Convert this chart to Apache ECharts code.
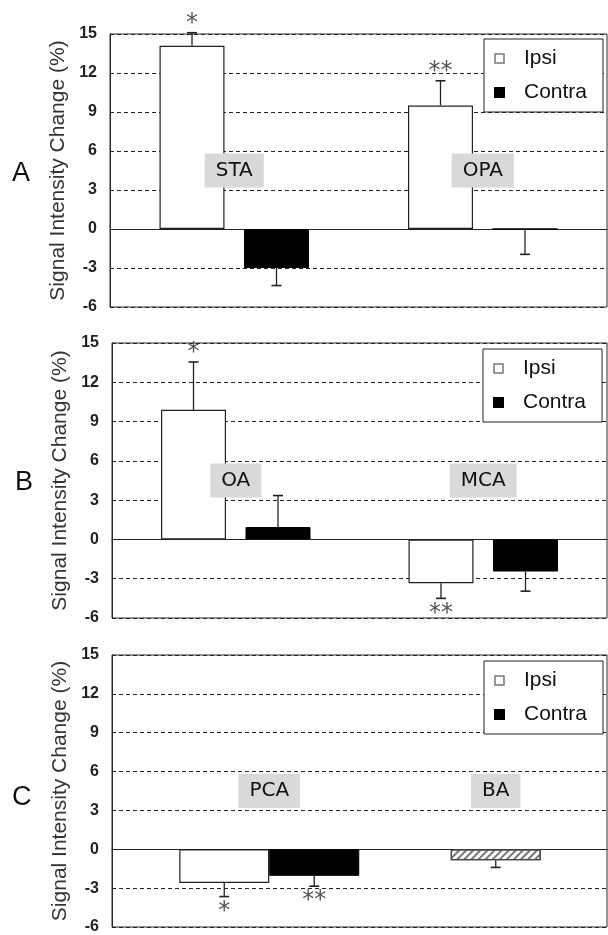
<!DOCTYPE html>
<html>
<head>
<meta charset="utf-8">
<script src="https://cdn.jsdelivr.net/npm/echarts@6/dist/echarts.min.js"></script>
<style>
html,body{margin:0;padding:0;background:#fff;}
#chart{width:608px;height:935px;}
</style>
</head>
<body>
<div id="chart"></div>
<script>
// ---------- data ----------
const yMin = -6, yMax = 15, yStep = 3;
const labelLevel = 4.5;           // vertical level of the vessel name boxes

// Panel A
const catsA = ['STA', 'OPA'];
const ipsiA = [14.1, 9.5];
const ipsiErrA = [1.0, 1.9];        // signed: drawn from bar end to value+err
const contraA = [-3.0, 0];
const contraErrA = [-1.35, -1.95];
const sigIpsiA = ['*', '**'];
const sigContraA = ['', ''];

// Panel B
const catsB = ['OA', 'MCA'];
const ipsiB = [9.9, -3.35];
const ipsiErrB = [3.65, -1.15];
const contraB = [0.95, -2.45];
const contraErrB = [2.4, -1.5];
const sigIpsiB = ['*', '**'];
const sigContraB = ['', ''];

// Panel C
const catsC = ['PCA', 'BA'];
const ipsiC = [-2.6, null];
const ipsiErrC = [-1.05, null];
const contraC = [-2.05, null];
const contraErrC = [-0.8, null];
const baC = [null, -0.85];
const baErrC = [null, -0.55];
const sigIpsiC = ['*', ''];
const sigContraC = ['**', ''];
const sigBaC = ['', ''];

// ---------- styles ----------
const frame = '#2a2a2a';
const ipsiStyle = {color: '#fff', borderColor: '#222', borderWidth: 1.2};
const contraStyle = {color: '#000', borderColor: '#000', borderWidth: 1};

function annot(xIdx, yIdx, cats, groups, labelOffsets) {
  return {
    type: 'custom', xAxisIndex: xIdx, yAxisIndex: yIdx, z: 10, silent: true,
    clip: false,
    data: cats.map((c, i) => [i, labelLevel]),
    renderItem(params, api) {
      const i = params.dataIndex;
      const ch = [];
      groups.forEach(g => {
        const v = g.vals[i], e = g.errs[i];
        if (v == null || e == null) return;
        const p0 = api.coord([i, v]);
        const p1 = api.coord([i, v + e]);
        const x = p0[0] + g.offset;
        ch.push({type: 'line', shape: {x1: x, y1: p0[1], x2: x, y2: p1[1]},
                 style: {stroke: '#222', lineWidth: 1.3}});
        ch.push({type: 'line', shape: {x1: x - 5, y1: p1[1], x2: x + 5, y2: p1[1]},
                 style: {stroke: '#222', lineWidth: 1.6}});
        const s = g.sig[i];
        if (s) {
          const up = e > 0;
          ch.push({type: 'text', x: x, y: up ? p1[1] - 9 : p1[1] + 15,
                   style: {text: s, fill: '#555', font: '24px "DejaVu Sans"',
                           align: 'center', verticalAlign: 'middle'}});
        }
      });
      const pl = api.coord([i, labelLevel]);
      ch.push({type: 'text', x: pl[0] + labelOffsets[i], y: pl[1],
               style: {text: cats[i], fill: '#111', font: '20px "DejaVu Sans"',
                       align: 'center', verticalAlign: 'middle',
                       backgroundColor: '#d9d9d9', padding: [8, 11, 6, 11]}});
      return {type: 'group', children: ch};
    }
  };
}

function xAxisFor(gridIndex, cats, show) {
  return {
    type: 'category', gridIndex, data: cats, show: show,
    axisLine: {show: true, onZero: true, lineStyle: {color: '#222', width: 1.2}},
    axisTick: {show: false}, axisLabel: {show: false}, splitLine: {show: false}
  };
}
function yAxisFor(gridIndex) {
  return {
    type: 'value', gridIndex, min: yMin, max: yMax, interval: yStep,
    name: 'Signal Intensity Change (%)', nameLocation: 'middle', nameRotate: 90, nameGap: 40,
    nameTextStyle: {fontFamily: 'Liberation Sans', fontSize: 21, color: '#333'},
    axisLine: {show: true, lineStyle: {color: frame, width: 1}},
    axisTick: {show: false},
    axisLabel: {fontFamily: 'Liberation Sans', fontWeight: 'bold', fontSize: 16, color: '#222', margin: 13},
    splitLine: {show: true, lineStyle: {color: '#222', width: 1.2, type: [4, 3]}}
  };
}
function legendAt(left, top) {
  return {
    left, top, orient: 'vertical', selectedMode: false,
    backgroundColor: '#fff', borderColor: '#222', borderWidth: 1,
    padding: [9, 16, 9, 10], itemWidth: 9, itemHeight: 9, itemGap: 13,
    textStyle: {fontFamily: 'Liberation Sans', fontSize: 21, color: '#111', padding: [0, 0, 0, 15], lineHeight: 20},
    data: [
      {name: 'Ipsi', icon: 'rect', itemStyle: {color: '#fff', borderColor: '#777', borderWidth: 1.5}},
      {name: 'Contra', icon: 'rect', itemStyle: {color: '#000'}}
    ]
  };
}

const gridBase = {show: true, borderColor: frame, borderWidth: 1, backgroundColor: 'transparent', containLabel: false};

const option = {
  animation: false,
  backgroundColor: '#fff',
  grid: [
    Object.assign({left: 110, top: 34, width: 497, height: 273}, gridBase),
    Object.assign({left: 112, top: 343, width: 495, height: 275}, gridBase),
    Object.assign({left: 112, top: 655, width: 495, height: 276}, gridBase)
  ],
  xAxis: [
    xAxisFor(0, catsA, true),
    xAxisFor(1, catsB, true),
    xAxisFor(2, catsC, true),
    xAxisFor(2, catsC, false)
  ],
  yAxis: [yAxisFor(0), yAxisFor(1), yAxisFor(2)],
  legend: [legendAt(484, 39), legendAt(483, 349), legendAt(484, 661)],
  graphic: [
    {type: 'text', left: 12, top: 160, style: {text: 'A', font: '27px "Liberation Sans"', fill: '#111'}},
    {type: 'text', left: 15, top: 469, style: {text: 'B', font: '27px "Liberation Sans"', fill: '#111'}},
    {type: 'text', left: 12, top: 784, style: {text: 'C', font: '27px "Liberation Sans"', fill: '#111'}}
  ],
  series: [
    // A
    {name: 'Ipsi', type: 'bar', xAxisIndex: 0, yAxisIndex: 0, data: ipsiA, barWidth: 65, barGap: '30%', itemStyle: ipsiStyle},
    {name: 'Contra', type: 'bar', xAxisIndex: 0, yAxisIndex: 0, data: contraA, barWidth: 65, barGap: '30%', itemStyle: contraStyle},
    annot(0, 0, catsA, [
      {vals: ipsiA, errs: ipsiErrA, sig: sigIpsiA, offset: -42.25},
      {vals: contraA, errs: contraErrA, sig: sigContraA, offset: 42.25}
    ], [0, 0]),
    // B
    {name: 'Ipsi', type: 'bar', xAxisIndex: 1, yAxisIndex: 1, data: ipsiB, barWidth: 65, barGap: '30%', itemStyle: ipsiStyle},
    {name: 'Contra', type: 'bar', xAxisIndex: 1, yAxisIndex: 1, data: contraB, barWidth: 65, barGap: '30%', itemStyle: contraStyle},
    annot(1, 1, catsB, [
      {vals: ipsiB, errs: ipsiErrB, sig: sigIpsiB, offset: -42.25},
      {vals: contraB, errs: contraErrB, sig: sigContraB, offset: 42.25}
    ], [0, 0]),
    // C
    {name: '_padC1', type: 'bar', xAxisIndex: 2, yAxisIndex: 2, data: [null, null], barWidth: 67, barGap: 0, silent: true},
    {name: 'Ipsi', type: 'bar', xAxisIndex: 2, yAxisIndex: 2, data: ipsiC, barWidth: 90, barGap: 0, itemStyle: ipsiStyle},
    {name: 'Contra', type: 'bar', xAxisIndex: 2, yAxisIndex: 2, data: contraC, barWidth: 90, barGap: 0, itemStyle: contraStyle},
    {name: '_padC2', type: 'bar', xAxisIndex: 3, yAxisIndex: 2, data: [null, null], barWidth: 25, barGap: 0, silent: true},
    {name: 'BA', type: 'bar', xAxisIndex: 3, yAxisIndex: 2, data: baC, barWidth: 90, barGap: 0,
     itemStyle: {color: '#fff', borderColor: '#444', borderWidth: 1.2,
                 decal: {symbol: 'rect', symbolSize: 1, dashArrayX: [1, 0], dashArrayY: [1.5, 2.5], rotation: -Math.PI / 4, color: '#777'}}},
    annot(2, 2, catsC, [
      {vals: ipsiC, errs: ipsiErrC, sig: sigIpsiC, offset: -11.5},
      {vals: contraC, errs: contraErrC, sig: sigContraC, offset: 78.5},
      {vals: baC, errs: baErrC, sig: sigBaC, offset: 12.5}
    ], [33.5, 12.5])
  ]
};

const chart = echarts.init(document.getElementById('chart'), null, {renderer: 'canvas'});
chart.setOption(option);
</script>
</body>
</html>
